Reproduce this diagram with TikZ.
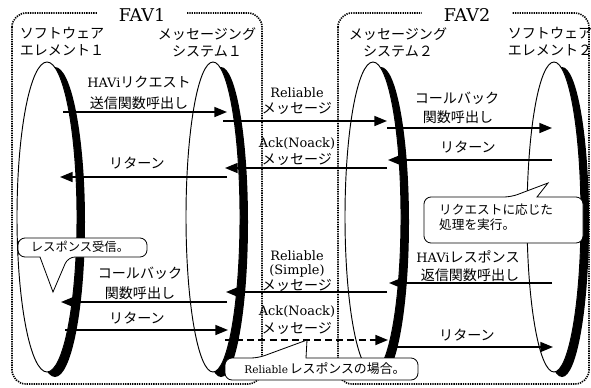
\documentclass[tikz,border=0pt]{standalone}
\usepackage{fontspec}
\setmainfont{DejaVu Serif}
\newfontfamily\jp{Noto Sans CJK JP}
\usetikzlibrary{arrows.meta}
\newcommand{\LW}{0.8pt}

\begin{document}
\begin{tikzpicture}[x=0.03cm,y=-0.03cm,
  >={Triangle[length=3.8mm,width=3mm]},
  msg/.style={->,line width=1.4pt},
  msgdash/.style={->,line width=1.5pt,dash pattern=on 6pt off 3.5pt},
  fav/.style={line width=1.4pt,dash pattern=on 1.1pt off 0.9pt,rounded corners=12pt},
  favlbl/.style={fill=white,minimum width=77pt,inner ysep=1pt,font=\fontsize{15}{17}\selectfont},
  hdr/.style={align=center,inner sep=0pt,font=\jp\fontsize{12}{14.5}\selectfont},
  lbl/.style={inner sep=0pt,font=\fontsize{11}{13}\selectfont},
  jlbl/.style={inner sep=0pt,font=\jp\fontsize{12}{14}\selectfont},
  callout/.style={fill=white,draw=black,line width=0.7pt}]

\useasboundingbox (0,0) rectangle (591,387);

% ---------------- FAV frames ------------------------------------------------
\draw[fav] (12,13) rectangle (262,384);
\draw[fav] (338,13) rectangle (589,384);
\node[favlbl] (fav1) at (142,15) {FAV1};
\node[favlbl] (fav2) at (467,15) {FAV2};

% ---------------- lifelines -------------------------------------------------
\foreach \cx/\rx in {47/30,213/27,373/28,554/27}{
  \fill (\cx+8,222) ellipse [x radius=\rx, y radius=155];
  \filldraw[fill=white,line width=\LW] (\cx,217) ellipse [x radius=\rx, y radius=155];
}

\node[hdr] (h-se1) at (62,42) {ソフトウェア\\エレメント１};
\node[hdr] (h-ms1) at (207,42) {メッセージング\\システム１};
\node[hdr] (h-ms2) at (398,42) {メッセージング\\システム２};
\node[hdr] (h-se2) at (550,42) {ソフトウェア\\エレメント２};

% ---------------- messages --------------------------------------------------
\foreach \nm/\xa/\xb/\yy/\st in {req/63/227/112/msg, rel/223/387/121/msg,
    cb/387/552/128/msg, ret/552/388/160/msg, ack/387/225/168/msg,
    ret1/227/60/177/msg, resp/552/389/283/msg, rels/387/226/292/msg,
    cb1/227/61/302/msg, ret2/65/228/330/msg, ack1/225/388/340/msgdash,
    ret3/393/553/347/msg}
  {\coordinate (\nm-a) at (\xa,\yy);
   \coordinate (\nm-b) at (\xb,\yy);
   \draw[\st] (\nm-a) -- (\nm-b);}

\node[lbl]  (req-t1)  at (139,82)  {HAVi\jp\fontsize{12}{14}\selectfont リクエスト};
\node[jlbl] (req-t2)  at (139,103) {送信関数呼出し};
\node[lbl]  (rel-t1)  at (297,93)  {Reliable};
\node[jlbl] (rel-t2)  at (297,108) {メッセージ};
\node[jlbl] (cb-t1)   at (457,98)  {コールバック};
\node[jlbl] (cb-t2)   at (458,117) {関数呼出し};
\node[jlbl] (ret-t)   at (468,147) {リターン};
\node[lbl]  (ack-t1)  at (297,144) {Ack(Noack)};
\node[jlbl] (ack-t2)  at (297,159) {メッセージ};
\node[jlbl] (ret1-t)  at (137,163) {リターン};
\node[lbl]  (resp-t1) at (468,257) {HAVi\jp\fontsize{12}{14}\selectfont レスポンス};
\node[jlbl] (resp-t2) at (470,275) {返信関数呼出し};
\node[lbl]  (rels-t1) at (297,256) {Reliable};
\node[lbl]  (rels-t2) at (297,271) {(Simple)};
\node[jlbl] (rels-t3) at (297,285) {メッセージ};
\node[jlbl] (cb1-t1)  at (140,273) {コールバック};
\node[jlbl] (cb1-t2)  at (140,293) {関数呼出し};
\node[jlbl] (ret2-t)  at (137,318) {リターン};
\node[lbl]  (ack1-t1) at (297,312) {Ack(Noack)};
\node[jlbl] (ack1-t2) at (297,328) {メッセージ};
\node[jlbl] (ret3-t)  at (467,335) {リターン};

% ---------------- callouts --------------------------------------------------
\draw[callout] (424,215) [rounded corners=6pt] -- (424,197) -- (511,197)
  [sharp corners] -- (548,183) -- (537,197)
  [rounded corners=6pt] -- (583,197) -- (583,243) -- (424,243) -- cycle;
\node[anchor=west,align=left,inner sep=0pt,font=\jp\fontsize{10.8}{12.8}\selectfont]
  (c-proc) at (439,217) {リクエストに応じた\\処理を実行。};

\draw[callout] (18,248) [rounded corners=6pt] -- (18,238) -- (147,238)
  -- (147,257) -- (68,257) [sharp corners] -- (53,292) -- (40,257)
  [rounded corners=6pt] -- (18,257) -- cycle;
\node[inner sep=0pt,font=\jp\fontsize{10.5}{12}\selectfont] (c-recv) at (80,247) {レスポンス受信。};

\draw[callout] (225,369) [rounded corners=6pt] -- (225,358) -- (258,358)
  [sharp corners] -- (307,340) -- (306,358)
  [rounded corners=6pt] -- (418,358) -- (418,380) -- (225,380) -- cycle;
\node[inner sep=0pt] (c-rel) at (325,369)
  {\fontsize{9}{12}\selectfont Reliable\,\jp\fontsize{11}{12}\selectfont レスポンスの場合。};

\end{tikzpicture}
\end{document}
